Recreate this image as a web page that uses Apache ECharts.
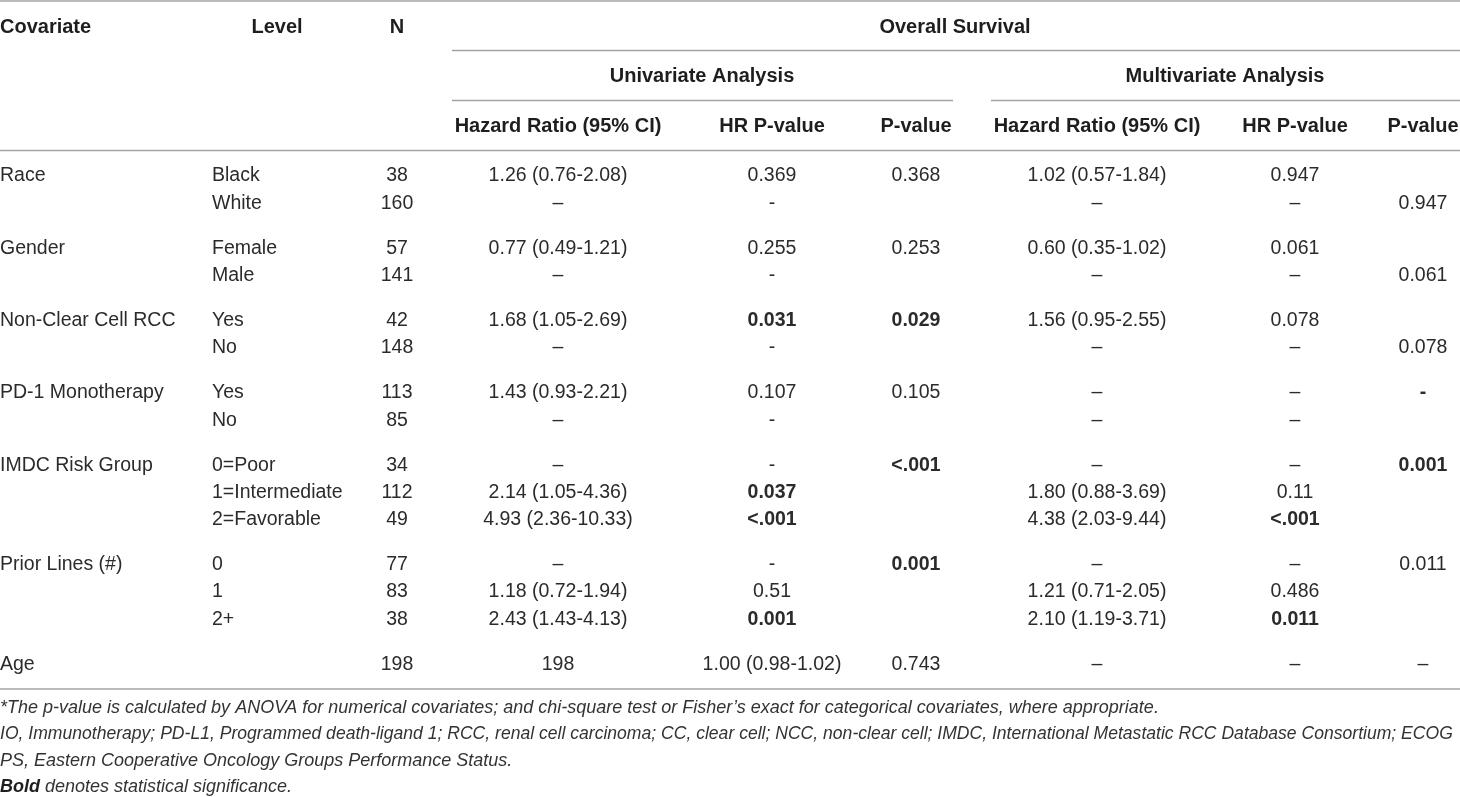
<!DOCTYPE html>
<html>
<head>
<meta charset="utf-8">
<script src="https://cdn.jsdelivr.net/npm/echarts@6.0.0/dist/echarts.min.js"></script>
<style>
  html, body { margin: 0; padding: 0; background: #fff; }
  #main { width: 1460px; height: 797px; }
</style>
</head>
<body>
<div id="main"></div>
<script>
// table content, one array per column
var covariate = ['Race', '', 'Gender', '', 'Non-Clear Cell RCC', '', 'PD-1 Monotherapy', '', 'IMDC Risk Group', '', '', 'Prior Lines (#)', '', '', 'Age'];
var level = ['Black', 'White', 'Female', 'Male', 'Yes', 'No', 'Yes', 'No', '0=Poor', '1=Intermediate', '2=Favorable', '0', '1', '2+', ''];
var nCount = ['38', '160', '57', '141', '42', '148', '113', '85', '34', '112', '49', '77', '83', '38', '198'];
var uniHR = ['1.26 (0.76-2.08)', '–', '0.77 (0.49-1.21)', '–', '1.68 (1.05-2.69)', '–', '1.43 (0.93-2.21)', '–', '–', '2.14 (1.05-4.36)', '4.93 (2.36-10.33)', '–', '1.18 (0.72-1.94)', '2.43 (1.43-4.13)', '198'];
var uniHRp = ['0.369', '-', '0.255', '-', '0.031', '-', '0.107', '-', '-', '0.037', '<.001', '-', '0.51', '0.001', '1.00 (0.98-1.02)'];
var uniP = ['0.368', '', '0.253', '', '0.029', '', '0.105', '', '<.001', '', '', '0.001', '', '', '0.743'];
var multiHR = ['1.02 (0.57-1.84)', '–', '0.60 (0.35-1.02)', '–', '1.56 (0.95-2.55)', '–', '–', '–', '–', '1.80 (0.88-3.69)', '4.38 (2.03-9.44)', '–', '1.21 (0.71-2.05)', '2.10 (1.19-3.71)', '–'];
var multiHRp = ['0.947', '–', '0.061', '–', '0.078', '–', '–', '–', '–', '0.11', '<.001', '–', '0.486', '0.011', '–'];
var multiP = ['', '0.947', '', '0.061', '', '0.078', '-', '', '0.001', '', '', '0.011', '', '', '–'];

// rows per covariate group
var groupSizes = [2, 2, 2, 2, 3, 3, 1];

// significant (bold) cells: [row, column]
var boldCells = [[4, 'uniHRp'], [4, 'uniP'], [6, 'multiP'], [8, 'uniP'], [8, 'multiP'], [9, 'uniHRp'],
    [10, 'uniHRp'], [10, 'multiHRp'], [11, 'uniP'], [13, 'uniHRp'], [13, 'multiHRp']];

// header texts
var headerTop = ['Covariate', 'Level', 'N', 'Overall Survival'];
var headerMid = ['Univariate Analysis', 'Multivariate Analysis'];
var headerSub = ['Hazard Ratio (95% CI)', 'HR P-value', 'P-value', 'Hazard Ratio (95% CI)', 'HR P-value', 'P-value'];

var footnotes = [
    '*The p-value is calculated by ANOVA for numerical covariates; and chi-square test or Fisher\u2019s exact for categorical covariates, where appropriate.',
    'IO, Immunotherapy; PD-L1, Programmed death-ligand 1; RCC, renal cell carcinoma; CC, clear cell; NCC, non-clear cell; IMDC, International Metastatic RCC Database Consortium; ECOG',
    'PS, Eastern Cooperative Oncology Groups Performance Status.',
    '{b|Bold} denotes statistical significance.'
];

// ---- layout ----
var W = 1460, H = 797;
var FONT = "'Liberation Sans', Arial, Helvetica, sans-serif";
var columns = [
    { key: 'cov', data: covariate, x: 0, align: 'left' },
    { key: 'level', data: level, x: 212, align: 'left' },
    { key: 'n', data: nCount, x: 397, align: 'center' },
    { key: 'uniHR', data: uniHR, x: 558, align: 'center' },
    { key: 'uniHRp', data: uniHRp, x: 772, align: 'center' },
    { key: 'uniP', data: uniP, x: 916, align: 'center' },
    { key: 'multiHR', data: multiHR, x: 1097, align: 'center' },
    { key: 'multiHRp', data: multiHRp, x: 1295, align: 'center' },
    { key: 'multiP', data: multiP, x: 1423, align: 'center' }
];

// row y positions from group structure
var rowY = [];
var y = 176;
groupSizes.forEach(function (size) {
    for (var i = 0; i < size; i++) {
        rowY.push(y);
        y += 27.3;
    }
    y += 45 - 27.3;
});

function isBold(r, key) {
    return boldCells.some(function (c) { return c[0] === r && c[1] === key; });
}

var cells = [];
function addCell(x, yy, text, opt) {
    opt = opt || {};
    cells.push({
        value: [x, yy],
        text: text,
        align: opt.align || 'center',
        bold: !!opt.bold,
        italic: !!opt.italic,
        size: opt.size || 19.5,
        squeeze: opt.squeeze || 1,
        color: opt.color || '#2b2b2b'
    });
}

// headers
var hdr = { bold: true, size: 20, color: '#1e1e1e' };
addCell(0, 27, headerTop[0], Object.assign({ align: 'left' }, hdr));
addCell(277, 27, headerTop[1], hdr);
addCell(397, 27, headerTop[2], hdr);
addCell(955, 27, headerTop[3], hdr);
addCell(702, 76, headerMid[0], hdr);
addCell(1225, 76, headerMid[1], hdr);
[558, 772, 916, 1097, 1295, 1423].forEach(function (x, i) {
    addCell(x, 126, headerSub[i], hdr);
});

// body
columns.forEach(function (col) {
    col.data.forEach(function (txt, r) {
        if (txt === '') return;
        addCell(col.x, rowY[r], txt, { align: col.align, bold: isBold(r, col.key) });
    });
});

// footnotes (second line is set tight to fit the width)
[708, 734, 761, 787].forEach(function (fy, i) {
    addCell(0, fy, footnotes[i], { align: 'left', italic: true, size: 18, color: '#333', squeeze: i === 1 ? 0.976 : 1 });
});

// horizontal rules: [x1, x2, y]
var rules = [[0, 1460, 1], [452, 1460, 50.5], [452, 953, 100.5], [991, 1460, 100.5], [0, 1460, 150.5], [0, 1460, 689]];

var chart = echarts.init(document.getElementById('main'));
var option = {
    animation: false,
    backgroundColor: '#fff',
    grid: { left: 0, right: 0, top: 0, bottom: 0 },
    xAxis: { type: 'value', min: 0, max: W, show: false },
    yAxis: { type: 'value', min: 0, max: H, inverse: true, show: false },
    series: [
        {
            type: 'custom',
            silent: true,
            data: rules,
            renderItem: function (params, api) {
                var p1 = api.coord([api.value(0), api.value(2)]);
                var p2 = api.coord([api.value(1), api.value(2)]);
                return {
                    type: 'line',
                    shape: { x1: p1[0], y1: p1[1], x2: p2[0], y2: p2[1] },
                    style: { stroke: '#a3a3a3', lineWidth: 1.6 }
                };
            }
        },
        {
            type: 'custom',
            silent: true,
            data: cells.map(function (c) { return c.value; }),
            renderItem: function (params, api) {
                var c = cells[params.dataIndex];
                var pt = api.coord([api.value(0), api.value(1)]);
                return {
                    type: 'text',
                    x: pt[0],
                    y: pt[1],
                    scaleX: c.squeeze,
                    style: {
                        text: c.text,
                        fill: c.color,
                        fontFamily: FONT,
                        fontSize: c.size,
                        fontWeight: c.bold ? 'bold' : 'normal',
                        fontStyle: c.italic ? 'italic' : 'normal',
                        align: c.align,
                        verticalAlign: 'middle',
                        rich: {
                            b: { fontWeight: 'bold', fontStyle: 'italic', fontSize: c.size, fontFamily: FONT, fill: '#1e1e1e' }
                        }
                    }
                };
            }
        }
    ]
};
chart.setOption(option);
</script>
</body>
</html>
